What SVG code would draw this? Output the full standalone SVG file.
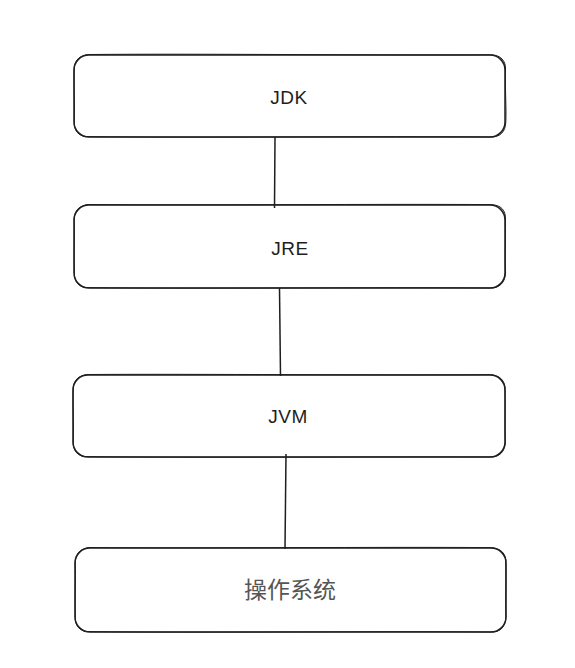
<svg xmlns="http://www.w3.org/2000/svg" width="575" height="668" viewBox="0 0 575 668">
<style>
.box{fill:#fff;stroke:#1e1e1e;stroke-width:1.5}
.sk{fill:none;stroke:#1e1e1e;stroke-width:1}
.conn{fill:none;stroke:#1e1e1e;stroke-width:1.5}
.lbl{font-family:"Liberation Sans","Noto Sans",sans-serif;font-size:19px;fill:#1e1e1e;text-anchor:middle;dominant-baseline:central;letter-spacing:0.5px}
.cjk{font-family:"Noto Sans CJK SC","Noto Sans",sans-serif;font-size:23px;fill:#555;text-anchor:middle;dominant-baseline:central}
</style>
<rect width="575" height="668" fill="#fff"/>
<g id="jdk">
<rect class="box" x="74" y="55" width="431" height="82" rx="15"/>
<path class="sk" d="M89 54.5 C200 53.5 380 55.5 491 54.8 C501 55 506 61 505.5 70 C505 90 506.5 110 505.8 122 C505.5 132 500 137.5 490 137 C380 136 200 138 89 136.6 C79 137 73.5 131 74.3 121 C74.8 100 73.6 85 74.2 69 C74.5 60 80 55 89 54.5"/>
<text class="lbl" x="289" y="97">JDK</text>
</g>
<g id="jre">
<rect class="box" x="74" y="205" width="431" height="83" rx="15"/>
<path class="sk" d="M89 204.5 C200 205.5 380 203.8 491 204.6 C501 205 506 210 505.4 220 C505.8 240 504.8 260 505.6 273 C505 283 499 288.5 490 288 C380 287 200 289 89 287.6 C79 288 74 282 74.4 272 C73.8 250 74.8 235 74.2 219 C74.6 210 80 205 89 204.5"/>
<text class="lbl" x="290" y="248">JRE</text>
</g>
<g id="jvm">
<rect class="box" x="73" y="375" width="432" height="82" rx="15"/>
<path class="sk" d="M88 374.5 C200 373.8 380 375.5 490 374.6 C500 375 505.5 381 505 390 C505.5 410 504.6 430 505.4 442 C505 452 499 457.5 490 457 C380 456.5 200 458 88 456.6 C78 457 72.5 451 73.3 441 C73.8 420 72.6 405 73.2 389 C73.5 380 79 375 88 374.5"/>
<text class="lbl" x="288" y="416">JVM</text>
</g>
<g id="os">
<rect class="box" x="75" y="548" width="431" height="84" rx="15"/>
<path class="sk" d="M90 547.5 C200 548.5 380 546.8 491 547.6 C501 548 506.5 554 505.8 563 C506.3 585 505.2 600 505.9 617 C505.5 627 500 632.5 491 632 C380 631 200 633 90 631.6 C80 632 74.5 626 75.3 616 C74.8 595 75.8 580 75.2 563 C75.6 553 81 548 90 547.5"/>
<text class="cjk" x="290" y="588">操作系统</text>
</g>
<g id="connectors">
<path class="conn" d="M275 137 L274.5 208"/>
<path class="conn" d="M279.5 288 L280.5 376"/>
<path class="conn" d="M286 454 L285 549"/>
</g>
</svg>
